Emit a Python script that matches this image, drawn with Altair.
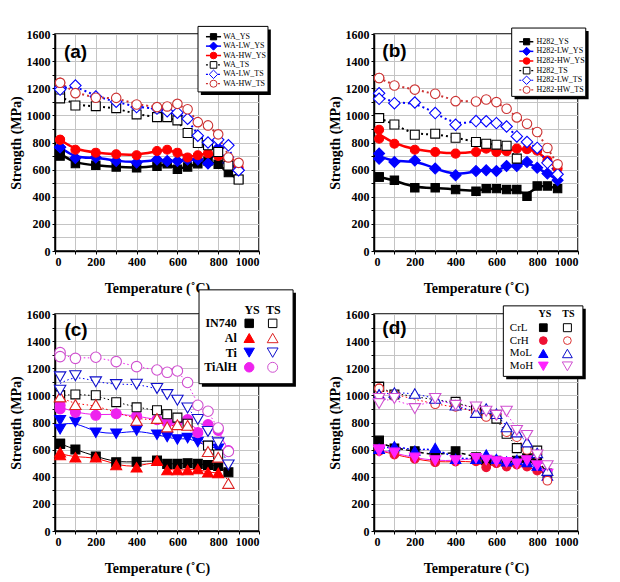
import altair as alt
import pandas as pd

N = None

# ---------------- data: panel (a) ----------------
T_a = [25, 25, 100, 200, 300, 400, 500, 550, 600, 650, 700, 750, 800, 850, 900]
WA_YS = [735, 700, 645, 632, 620, 613, 625, 644, 602, 620, 644, 664, 639, 578, 527]
WA_LW_YS = [765, 765, 685, 690, 664, 652, 674, 664, 664, 674, 674, 645, 760, 650, 595]
WA_HW_YS = [820, 820, 747, 725, 713, 706, 737, 747, 725, 690, 706, 720, 700, 681, 615]
WA_TS = [1158, 1125, 1073, 1068, 1053, 1007, 987, 987, 963, 870, 796, 779, 730, 630, 527]
WA_LW_TS = [1205, 1190, 1220, 1139, 1100, 1061, 1050, 1030, 1020, 975, 850, 800, 820, 779, 595]
WA_HW_TS = [1240, 1240, 1164, 1130, 1129, 1080, 1061, 1066, 1085, 1045, 950, 926, 860, 690, 650]

# ---------------- data: panel (b) ----------------
T_b = [25, 25, 100, 200, 300, 400, 500, 550, 600, 650, 700, 750, 800, 850, 900]
H282_YS = [546, 546, 522, 466, 466, 453, 441, 460, 460, 453, 453, 404, 480, 480, 460]
H282_LW_YS = [718, 681, 657, 668, 608, 558, 590, 595, 590, 627, 627, 657, 613, 571, 522]
H282_HW_YS = [894, 828, 791, 747, 730, 718, 730, 755, 730, 735, 755, 750, 740, 668, 608]
H282_TS = [980, 980, 933, 857, 865, 835, 804, 791, 784, 776, 681, N, N, N, N]
H282_LW_TS = [1163, 1122, 1090, 1095, 1017, 931, 958, 957, 943, 918, 845, 804, 760, 650, 566]
H282_HW_TS = [1276, 1276, 1220, 1190, 1159, 1105, 1102, 1117, 1098, 1049, 985, 938, 877, 760, 639]

# ---------------- data: panel (c) ----------------
T_c = [25, 25, 100, 200, 300, 400, 500, 550, 600, 650, 700, 750, 800, 850]
IN740_YS = [643, 643, 601, 550, 507, 510, 520, 495, 495, 500, 495, 487, 480, 433]
Al_YS = [581, 560, 544, 544, 487, 470, 519, 450, 450, 450, 457, 433, 428, N]
Ti_YS = [816, 750, 804, 725, 717, 742, 710, 693, 675, 685, 656, 626, 606, N]
TiAlH_YS = [927, 900, 875, 853, 865, 848, 821, 799, 804, 821, 725, 784, 742, 593]
IN740_TS = [1000, 1000, 1007, 1001, 950, 912, 890, 861, 836, 791, N, 630, 564, N]
Al_TS = [989, 989, 932, 932, N, 816, 830, 767, 784, 779, N, 586, 544, 351]
Ti_TS = [1137, 1038, 1145, 1100, 1080, 1083, 1051, 1006, 964, 907, 823, 734, 650, 487]
TiAlH_TS = [1315, 1286, 1273, 1281, 1249, 1212, 1187, 1170, 1180, 1095, 927, 883, 759, 586]

# ---------------- data: panel (d) ----------------
T_d = [25, 25, 100, 200, 300, 400, 500, 550, 600, 650, 700, 750, 800, 850]
CrL_YS = [668, 640, 610, 589, 556, 589, 544, 520, 519, 507, 519, 537, 532, 425]
CrH_YS = [600, 589, 564, 532, 507, 512, 514, 470, 500, 475, 490, 475, 445, 420]
MoL_YS = [606, 606, 626, 593, 613, 532, 532, 564, 532, 514, 524, 507, 482, 408]
MoH_YS = [600, 589, 576, 539, 519, 519, 537, 524, 512, 507, 495, 519, 482, 420]
CrL_TS = [1063, 1063, 1006, N, N, 952, 903, 865, 828, 717, 611, N, 593, N]
CrH_TS = [1051, 1051, 1006, N, 935, 915, 878, 841, 858, 729, 692, 598, 564, 371]
MoL_TS = [1006, 1006, 1021, 1014, 977, 927, 873, 903, 865, 767, 729, 655, 576, 445]
MoH_TS = [977, 940, 977, 903, 977, 927, 915, 883, 853, 883, 742, 705, 561, 482]

# ---------------- styles ----------------
BLK, BLU, RED, MAG = "#000000", "#0000ff", "#ff0000", "#ee22ee"
DRED, DMAG = "#cc3333", "#d050d0"
DOT = [2, 3]
THIN_DOT = [1.5, 2.5]


def st(shape, color, filled, line, lw, dash=None, size=80):
    return dict(shape=shape, stroke=color, fill=(color if filled else "white"),
                line=line, lw=lw, dash=dash, size=size)


styles = {
    "WA_YS": st("square", BLK, True, BLK, 2.5, size=70),
    "WA-LW_YS": st("diamond", BLU, True, BLU, 2.5, size=120),
    "WA-HW_YS": st("circle", RED, True, RED, 2.5, size=80),
    "WA_TS": st("square", BLK, False, BLK, 2, DOT, size=80),
    "WA-LW_TS": st("diamond", BLU, False, BLU, 2, DOT, size=130),
    "WA-HW_TS": st("circle", DRED, False, DRED, 2, DOT, size=90),
    "H282_YS": st("square", BLK, True, BLK, 2.5, size=70),
    "H282-LW_YS": st("diamond", BLU, True, BLU, 2.5, size=120),
    "H282-HW_YS": st("circle", RED, True, RED, 2.5, size=80),
    "H282_TS": st("square", BLK, False, BLK, 2, DOT, size=80),
    "H282-LW_TS": st("diamond", BLU, False, BLU, 2, DOT, size=130),
    "H282-HW_TS": st("circle", DRED, False, DRED, 2, DOT, size=90),
    "IN740_YS": st("square", BLK, True, BLK, 1, size=80),
    "Al_YS": st("triangle-up", RED, True, RED, 1, size=120),
    "Ti_YS": st("triangle-down", BLU, True, BLU, 1, size=120),
    "TiAlH_YS": st("circle", MAG, True, MAG, 1, size=100),
    "IN740_TS": st("square", BLK, False, BLK, 1, THIN_DOT, size=80),
    "Al_TS": st("triangle-up", "#dd2222", False, RED, 1, THIN_DOT, size=130),
    "Ti_TS": st("triangle-down", "#1010cc", False, BLU, 1, THIN_DOT, size=130),
    "TiAlH_TS": st("circle", DMAG, False, MAG, 1, THIN_DOT, size=110),
    "CrL_YS": st("square", BLK, True, BLK, 1.5, [4, 3], size=75),
    "CrH_YS": st("circle", "#ee1133", True, RED, 1, size=75),
    "MoL_YS": st("triangle-up", BLU, True, BLU, 1.5, [2, 2], size=110),
    "MoH_YS": st("triangle-down", "#ff22ff", True, MAG, 1, size=120),
    "CrL_TS": st("square", BLK, False, BLK, 1, THIN_DOT, size=80),
    "CrH_TS": st("circle", "#dd3333", False, RED, 1, THIN_DOT, size=75),
    "MoL_TS": st("triangle-up", "#1010cc", False, BLU, 1, THIN_DOT, size=120),
    "MoH_TS": st("triangle-down", DMAG, False, MAG, 1, THIN_DOT, size=130),
}


def build(T, series):
    rows = []
    for name, vals in series:
        for t, v in zip(T, vals):
            if v is not None:
                s = styles[name]
                rows.append(dict(T=t, v=v, series=name, shape=s["shape"],
                                 stroke=s["stroke"], fill=s["fill"], size=s["size"]))
    return pd.DataFrame(rows)


ser_a = [("WA_YS", WA_YS), ("WA-LW_YS", WA_LW_YS), ("WA-HW_YS", WA_HW_YS),
         ("WA_TS", WA_TS), ("WA-LW_TS", WA_LW_TS), ("WA-HW_TS", WA_HW_TS)]
ser_b = [("H282_YS", H282_YS), ("H282-LW_YS", H282_LW_YS), ("H282-HW_YS", H282_HW_YS),
         ("H282_TS", H282_TS), ("H282-LW_TS", H282_LW_TS), ("H282-HW_TS", H282_HW_TS)]
ser_c = [("IN740_YS", IN740_YS), ("Al_YS", Al_YS), ("Ti_YS", Ti_YS), ("TiAlH_YS", TiAlH_YS),
         ("IN740_TS", IN740_TS), ("Al_TS", Al_TS), ("Ti_TS", Ti_TS), ("TiAlH_TS", TiAlH_TS)]
ser_d = [("CrL_YS", CrL_YS), ("CrH_YS", CrH_YS), ("MoL_YS", MoL_YS), ("MoH_YS", MoH_YS),
         ("CrL_TS", CrL_TS), ("CrH_TS", CrH_TS), ("MoL_TS", MoL_TS), ("MoH_TS", MoH_TS)]

SERIF = "Liberation Serif"
SANS = "Liberation Sans"

X = alt.X("T:Q", scale=alt.Scale(domain=[0, 1000], nice=False, zero=False),
          axis=alt.Axis(values=list(range(0, 1001, 100)),
                        labelExpr="datum.value % 200 == 0 ? datum.label : ''",
                        format="d", title="Temperature (˚C)", titlePadding=14))
Y = alt.Y("v:Q", scale=alt.Scale(domain=[0, 1600], nice=False, zero=False),
          axis=alt.Axis(values=list(range(0, 1601, 100)),
                        labelExpr="datum.value % 200 == 0 ? datum.label : ''",
                        format="d", title="Strength (MPa)", titlePadding=3))
SHAPE = alt.Shape("shape:N", scale=None)
FILL = alt.Fill("fill:N", scale=None)
STROKE = alt.Stroke("stroke:N", scale=None)
SIZE = alt.Size("size:Q", scale=None)


def box_layers(box, dx, dy):
    t0, t1, v0, v1 = box
    sh = pd.DataFrame([dict(T=t0 + dx, T2=t1 + dx, v=v0 - dy, v2=v1 - dy)])
    bx = pd.DataFrame([dict(T=t0, T2=t1, v=v0, v2=v1)])
    return [
        alt.Chart(sh).mark_rect(fill="black").encode(x=X, x2="T2:Q", y=Y, y2="v2:Q"),
        alt.Chart(bx).mark_rect(fill="white", stroke="black", strokeWidth=1)
        .encode(x=X, x2="T2:Q", y=Y, y2="v2:Q"),
    ]


def list_legend(names, box, v0, step, tl0, tl1, tm, tt, dx, dy):
    lines, marks, texts = [], [], []
    for i, n in enumerate(names):
        s = styles[n]
        v = v0 + i * step
        kind = "TS" if n.endswith("TS") else "YS"
        lines.append(dict(T=tl0, T1=tl1, v=v, kind=kind, line=s["line"]))
        marks.append(dict(T=tm, v=v, shape=s["shape"], stroke=s["stroke"],
                          fill=s["fill"], size=s["size"] * 0.55))
        texts.append(dict(T=tt, v=v, label=n))
    ldf, mdf, tdf = pd.DataFrame(lines), pd.DataFrame(marks), pd.DataFrame(texts)
    layers = box_layers(box, dx, dy)
    layers.append(alt.Chart(ldf).transform_filter(alt.datum.kind == "YS")
                  .mark_rule(strokeWidth=1.5)
                  .encode(x=X, x2="T1:Q", y=Y, stroke=alt.Stroke("line:N", scale=None)))
    layers.append(alt.Chart(ldf).transform_filter(alt.datum.kind == "TS")
                  .mark_rule(strokeWidth=1.2, strokeDash=[2, 2])
                  .encode(x=X, x2="T1:Q", y=Y, stroke=alt.Stroke("line:N", scale=None)))
    layers.append(alt.Chart(mdf).mark_point(filled=True, opacity=1, strokeWidth=1)
                  .encode(x=X, y=Y, shape=SHAPE, fill=FILL, stroke=STROKE, size=SIZE))
    layers.append(alt.Chart(tdf).mark_text(align="left", baseline="middle", font=SERIF,
                                           fontSize=8, color="black")
                  .encode(x=X, y=Y, text="label:N"))
    return layers


def grid_legend(mats, box, vh, v0, step, t_lab, lab_align, t_ys, t_ts, t_hys, t_hts,
                fsize, fweight, hsize, dx, dy, scale_sym):
    sym = []
    lab = []
    for i, m in enumerate(mats):
        v = v0 + i * step
        lab.append(dict(T=t_lab, v=v, text=m))
        for kind, t in (("YS", t_ys), ("TS", t_ts)):
            s = styles[m + "_" + kind]
            sym.append(dict(T=t, v=v, shape=s["shape"], stroke=s["stroke"],
                            fill=s["fill"], size=s["size"] * scale_sym))
    hdr = [dict(T=t_hys, v=vh, text="YS"), dict(T=t_hts, v=vh, text="TS")]
    sym_df, lab_df, hdr_df = pd.DataFrame(sym), pd.DataFrame(lab), pd.DataFrame(hdr)
    layers = box_layers(box, dx, dy)
    layers.append(alt.Chart(sym_df).mark_point(filled=True, opacity=1, strokeWidth=1)
                  .encode(x=X, y=Y, shape=SHAPE, fill=FILL, stroke=STROKE, size=SIZE))
    layers.append(alt.Chart(lab_df).mark_text(align=lab_align, baseline="middle",
                                              font=SERIF, fontSize=fsize,
                                              fontWeight=fweight, color="black")
                  .encode(x=X, y=Y, text="text:N"))
    layers.append(alt.Chart(hdr_df).mark_text(align="center", baseline="middle",
                                              font=SERIF, fontSize=hsize,
                                              fontWeight="bold", color="black")
                  .encode(x=X, y=Y, text="text:N"))
    return layers


def panel(series, T, legend, tag, tag_T, tag_v):
    df = build(T, series)
    layers = []
    for name, _ in series:
        s = styles[name]
        kw = dict(interpolate="basis", color=s["line"], strokeWidth=s["lw"])
        if s["dash"]:
            kw["strokeDash"] = s["dash"]
        layers.append(alt.Chart(df).transform_filter(alt.datum.series == name)
                      .transform_aggregate(v="mean(v)", groupby=["T"])
                      .mark_line(**kw).encode(x=X, y=Y))
    layers.append(alt.Chart(df).mark_point(filled=True, opacity=1, strokeWidth=1.1)
                  .encode(x=X, y=Y, shape=SHAPE, fill=FILL, stroke=STROKE, size=SIZE))
    layers += legend
    tdf = pd.DataFrame([dict(T=tag_T, v=tag_v, text=tag)])
    layers.append(alt.Chart(tdf).mark_text(align="left", baseline="middle", font=SANS,
                                           fontSize=19, fontWeight="bold", color="black")
                  .encode(x=X, y=Y, text="text:N"))
    return alt.layer(*layers).properties(width=204, height=217)


leg_a = list_legend([n for n, _ in ser_a], (701, 1044, 1656, 1173), 1580, -69.3,
                    740, 814, 777, 825, 14, 22)
leg_b = list_legend([n for n, _ in ser_b], (675, 1038, 1644, 1140), 1543, -71,
                    712, 781, 748, 797, 14, 22)
leg_c = grid_legend(["IN740", "Al", "Ti", "TiAlH"], (706, 1167, 1778, 1086), 1630, 1531, -108,
                    891, "right", 952, 1067, 966, 1070, 12, "bold", 12, 14, 22, 0.9)
leg_d = grid_legend(["CrL", "CrH", "MoL", "MoH"], (634, 1024, 1660, 1140), 1598, 1499, -95,
                    666, "left", 830, 948, 838, 953, 11, "normal", 10, 14, 22, 0.8)

pa = panel(ser_a, T_a, leg_a, "(a)", 44, 1465)
pb = panel(ser_b, T_b, leg_b, "(b)", 41, 1477)
pc = panel(ser_c, T_c, leg_c, "(c)", 46, 1484)
pd_ = panel(ser_d, T_d, leg_d, "(d)", 41, 1496)

chart = (
    alt.concat(pa, pb, pc, pd_, columns=2, spacing={"row": 63, "column": 115},
               bounds="flush")
    .properties(padding={"left": 0, "top": 17, "right": 0, "bottom": 0})
    .configure_view(stroke="black", strokeWidth=1.5, fill="white")
    .configure_axis(grid=True, gridColor="#c4c4c4", gridWidth=1,
                    domainColor="black", domainWidth=1.5,
                    tickColor="black", tickSize=3, tickWidth=1,
                    labelFont=SERIF, labelFontWeight="bold", labelFontSize=12,
                    labelColor="black", labelPadding=2,
                    titleFont=SERIF, titleFontWeight="bold", titleFontSize=14,
                    titleColor="black")
)

chart.save("out.html", embed_options={"renderer": "svg", "actions": False})
